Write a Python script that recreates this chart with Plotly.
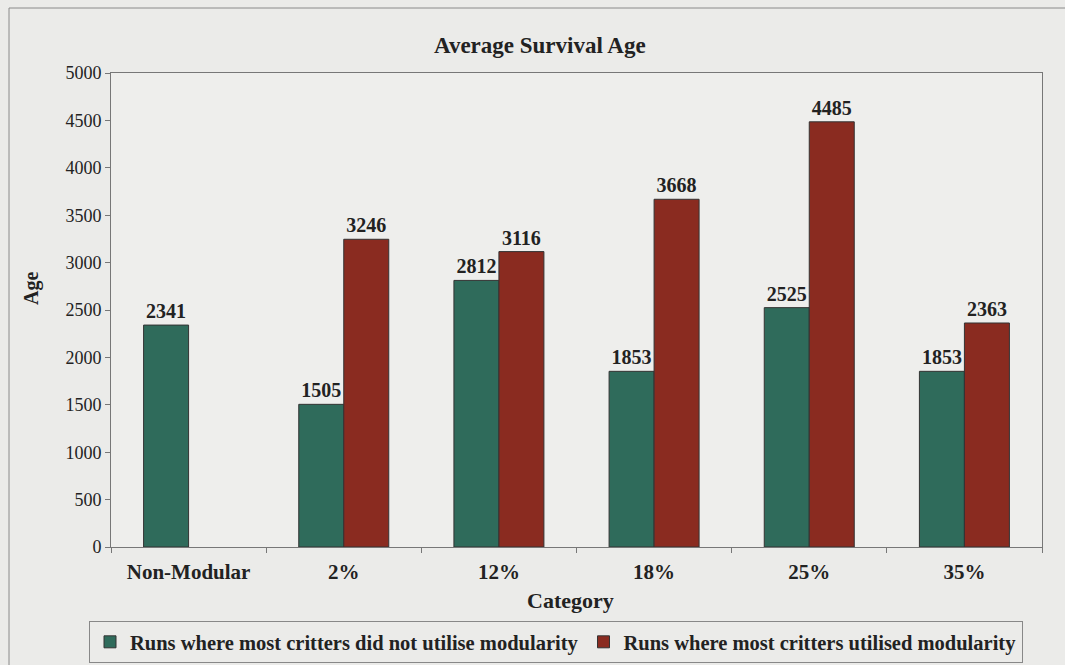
import plotly.graph_objects as go

categories = ["Non-Modular", "2%", "12%", "18%", "25%", "35%"]
not_utilised = [2341, 1505, 2812, 1853, 2525, 1853]
utilised = [None, 3246, 3116, 3668, 4485, 2363]
series_names = ["Runs where most critters did not utilise modularity",
                "Runs where most critters utilised modularity"]
y_ticks = [0, 500, 1000, 1500, 2000, 2500, 3000, 3500, 4000, 4500, 5000]

FONT = "Times New Roman, Liberation Serif, Times, serif"
TXT = "#222222"
GREEN = "#2f6b5b"
RED = "#8a2b20"
BG = "#ebebe9"

fig = go.Figure()
fig.add_trace(go.Bar(
    x=categories, y=not_utilised, name=series_names[0],
    marker=dict(color=GREEN, line=dict(color="#333333", width=1)),
    text=[str(v) for v in not_utilised], textposition="outside",
    textfont=dict(family=FONT, size=20, color=TXT), texttemplate="<b>%{text}</b>",
    cliponaxis=False,
))
fig.add_trace(go.Bar(
    x=categories, y=utilised, name=series_names[1],
    marker=dict(color=RED, line=dict(color="#333333", width=1)),
    text=["" if v is None else str(v) for v in utilised], textposition="outside",
    textfont=dict(family=FONT, size=20, color=TXT), texttemplate="<b>%{text}</b>",
    cliponaxis=False,
))

W, H = 1065, 665
L, R, T, B = 111, 1042, 73, 547
pw, ph = R - L, B - T

def px(x):
    return (x - L) / pw

def py(y):
    return (B - y) / ph

fig.update_layout(
    width=W, height=H,
    margin=dict(l=L, r=W - R, t=T, b=H - B),
    paper_bgcolor=BG,
    plot_bgcolor="#eeeeec",
    barmode="group", bargap=0.42, bargroupgap=0,
    font=dict(family=FONT, color=TXT),
    showlegend=True,
    legend=dict(
        orientation="h", xref="container", yref="container",
        x=556 / W, y=1 - 621 / H, xanchor="center", yanchor="top",
        bordercolor="#888888", borderwidth=1, bgcolor="rgba(0,0,0,0)",
        font=dict(family=FONT, size=20.5, color=TXT, weight="bold"),
        itemwidth=30, tracegroupgap=0,
    ),
    xaxis=dict(
        showline=True, linecolor="#777777", linewidth=1, mirror=True,
        ticks="outside", tickson="boundaries", ticklen=5, tickcolor="#777777",
        tickfont=dict(family=FONT, size=21, color=TXT, weight="bold"),
        ticklabelstandoff=6,
        showgrid=False,
    ),
    yaxis=dict(
        range=[0, 5000], tickvals=y_ticks,
        showline=True, linecolor="#777777", linewidth=1, mirror=True,
        ticks="outside", ticklen=5, tickcolor="#777777",
        tickfont=dict(family=FONT, size=18, color=TXT),
        showgrid=False, zeroline=False,
    ),
    annotations=[
        dict(text="<b>Average Survival Age</b>", xref="paper", yref="paper",
             x=px(540), y=py(46), xanchor="center", yanchor="middle", showarrow=False,
             font=dict(family=FONT, size=23, color=TXT)),
        dict(text="<b>Category</b>", xref="paper", yref="paper",
             x=px(570), y=py(600), xanchor="center", yanchor="middle", showarrow=False,
             font=dict(family=FONT, size=22, color=TXT)),
        dict(text="<b>Age</b>", xref="paper", yref="paper",
             x=px(31), y=py(289), xanchor="center", yanchor="middle", showarrow=False,
             textangle=-90,
             font=dict(family=FONT, size=20, color=TXT)),
    ],
    shapes=[
        dict(type="line", xref="paper", yref="paper",
             x0=px(9), x1=px(1065), y0=py(8), y1=py(8),
             line=dict(color="#8a8a8a", width=1)),
        dict(type="line", xref="paper", yref="paper",
             x0=px(9), x1=px(9), y0=py(8), y1=py(665),
             line=dict(color="#8a8a8a", width=1)),
    ],
)

fig.write_html(
    "out.html",
    config={"displayModeBar": False},
    post_script="document.body.style.margin='0';document.body.style.background='" + BG + "';",
)
